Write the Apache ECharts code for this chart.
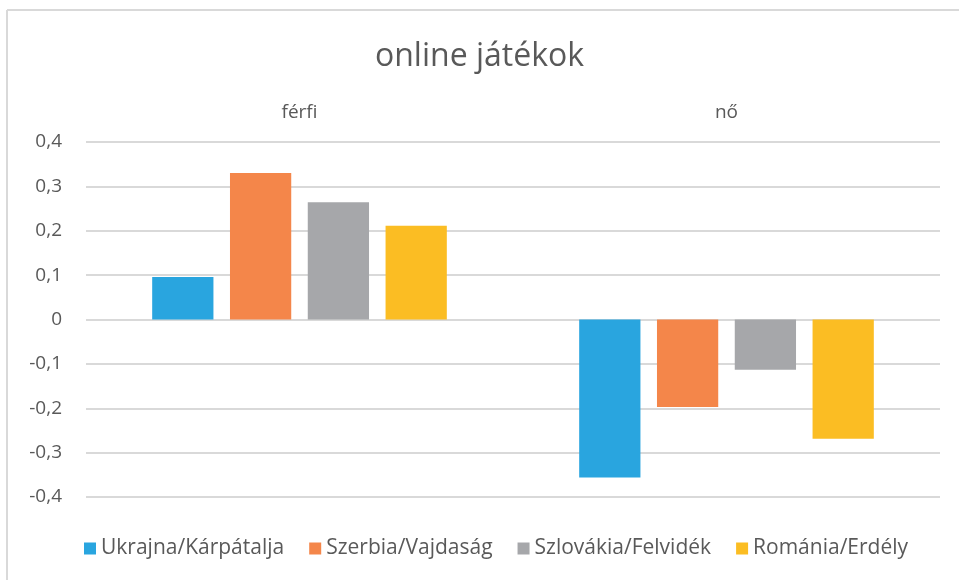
<!DOCTYPE html>
<html>
<head>
<meta charset="utf-8">
<script src="https://cdn.jsdelivr.net/npm/echarts@6/dist/echarts.min.js"></script>
<style>
html, body { margin: 0; padding: 0; background: #fff; }
#chart { width: 959px; height: 580px; }
</style>
</head>
<body>
<div id="chart"></div>
<script>
var categories = ['férfi', 'nő'];
var seriesNames = ['Ukrajna/Kárpátalja', 'Szerbia/Vajdaság', 'Szlovákia/Felvidék', 'Románia/Erdély'];
var ukrajna = [0.096, -0.356];
var szerbia = [0.330, -0.197];
var szlovakia = [0.264, -0.113];
var romania = [0.211, -0.269];
var colors = ['#29a5df', '#f4864a', '#a6a7aa', '#fbbd23'];

var chart = echarts.init(document.getElementById('chart'));
var font = '"Open Sans", Lato, sans-serif';
var values = [ukrajna, szerbia, szlovakia, romania];

var series = seriesNames.map(function (name, i) {
	return {
		name: name,
		type: 'bar',
		data: values[i],
		barGap: '27%',
		barCategoryGap: '31%',
		itemStyle: { color: colors[i] }
	};
});

var option = {
	animation: false,
	title: {
		text: 'online játékok',
		left: 'center',
		top: 36,
		textStyle: { fontFamily: font, fontSize: 32, fontWeight: 'normal', color: '#595959' }
	},
	legend: {
		bottom: 16,
		left: 79,
		itemWidth: 12,
		itemHeight: 12,
		itemGap: 25,
		icon: 'rect',
		textStyle: { fontFamily: font, fontSize: 21, color: '#595959' },
		data: seriesNames
	},
	grid: { left: 86, right: 19, top: 142, bottom: 83, containLabel: false },
	xAxis: {
		type: 'category',
		position: 'top',
		data: categories,
		axisLine: { show: false },
		axisTick: { show: false },
		axisLabel: { margin: 20, fontFamily: font, fontSize: 19, color: '#595959' }
	},
	yAxis: {
		type: 'value',
		min: -0.4,
		max: 0.4,
		interval: 0.1,
		axisLine: { show: false },
		axisTick: { show: false },
		splitLine: { lineStyle: { color: '#d9d9d9', width: 2 } },
		axisLabel: {
			margin: 24,
			fontFamily: font,
			fontSize: 19,
			color: '#595959',
			formatter: function (v) {
				var r = Math.round(v * 10) / 10;
				return r === 0 ? '0' : String(r).replace('.', ',');
			}
		}
	},
	graphic: [
		{ type: 'line', shape: { x1: 7, y1: 10, x2: 7, y2: 580 }, style: { stroke: '#d9d9d9', lineWidth: 2 } },
		{ type: 'line', shape: { x1: 7, y1: 10, x2: 959, y2: 10 }, style: { stroke: '#d9d9d9', lineWidth: 2 } }
	],
	series: series
};
chart.setOption(option);
</script>
</body>
</html>
